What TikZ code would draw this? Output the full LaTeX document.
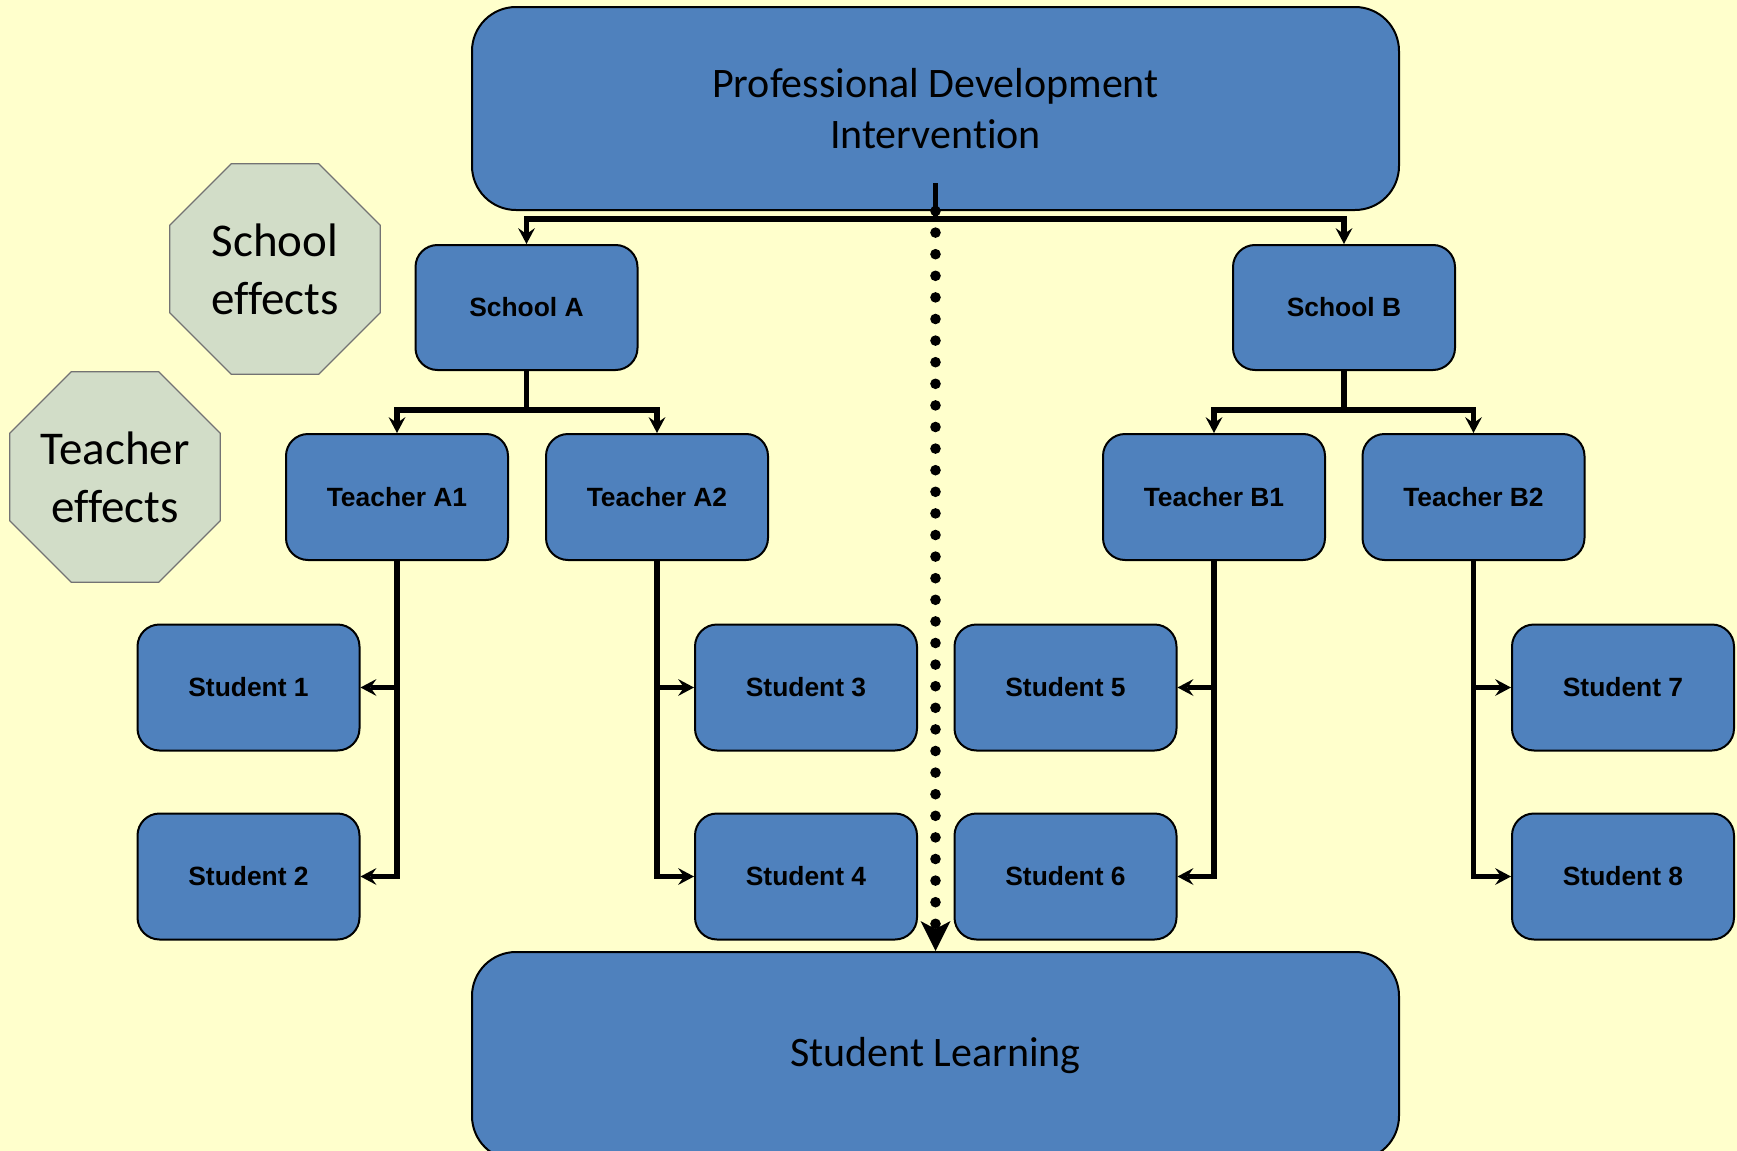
\documentclass[tikz,border=0pt]{standalone}
\usepackage{fontspec}
\setmainfont{Carlito}[RawFeature={-liga;-clig;-calt;-dlig}]
\newfontfamily\labelfont{Liberation Sans}
\usetikzlibrary{arrows.meta,shapes.geometric}
\definecolor{bgyellow}{HTML}{FFFFCC}
\definecolor{boxblue}{HTML}{4F81BD}
\definecolor{octfill}{HTML}{D2DDC8}
\begin{document}
\begin{tikzpicture}[x=0.5pt,y=-0.5pt,
  box/.style={draw=black,line width=1pt,fill=boxblue,rounded corners=11pt,
    minimum width=111pt,minimum height=63pt,inner sep=0pt,
    font=\labelfont\bfseries\fontsize{13.2}{15}\selectfont},
  bigbox/.style={draw=black,line width=1pt,fill=boxblue,rounded corners=22pt,
    minimum width=463.5pt,inner sep=0pt,align=center,
    font=\fontsize{21}{25.5}\selectfont},
  octa/.style={regular polygon,regular polygon sides=8,minimum size=114pt,
    inner sep=0pt,draw=black!55,line width=0.6pt,fill=octfill,align=center,
    font=\fontsize{23.5}{29}\selectfont},
  conn/.style={line width=2.7pt},
  tip/.style={-{Stealth[length=8pt,width=8.5pt,inset=3pt,line width=0pt]}},
  dotline/.style={line width=5.3pt,line cap=round,dash pattern=on 0pt off 10.8pt,
    -{Stealth[length=15pt,width=15pt,inset=4pt,line width=0pt]}},
]
\useasboundingbox (0,0) rectangle (1737,1151);
\fill[bgyellow] (0,0) rectangle (1737,1151);
\begin{scope}
\clip (0,0) rectangle (1737,1151);

% main boxes
\node[bigbox,minimum height=101.5pt] (top) at (935.5,108.5)
  {Professional Development\\Intervention};
\node[bigbox,minimum height=104pt] (learn) at (935.5,1056) {Student Learning};

% effect labels
\node[octa] (schfx) at (275,269) {School\\effects};
\node[octa] (teafx) at (115,477) {Teacher\\effects};

% schools
\node[box,minimum height=62.5pt] (sA) at (526.5,307.5) {School A};
\node[box,minimum height=62.5pt] (sB) at (1344,307.5) {School B};

% teachers
\node[box] (tA1) at (397,497) {Teacher A1};
\node[box] (tA2) at (657,497) {Teacher A2};
\node[box] (tB1) at (1214,497) {Teacher B1};
\node[box] (tB2) at (1473.5,497) {Teacher B2};

% students
\node[box] (s1) at (248.5,687.5) {Student 1};
\node[box] (s2) at (248.5,876.5) {Student 2};
\node[box] (s3) at (806,687.5) {Student 3};
\node[box] (s4) at (806,876.5) {Student 4};
\node[box] (s5) at (1065.5,687.5) {Student 5};
\node[box] (s6) at (1065.5,876.5) {Student 6};
\node[box] (s7) at (1623,687.5) {Student 7};
\node[box] (s8) at (1623,876.5) {Student 8};

% junction points
\coordinate (stem) at (935.5,183);
\coordinate (tj) at (935.5,219);
\coordinate (jA) at (526.5,410);
\coordinate (jB) at (1344,410);

% direct path from intervention to learning
\draw[dotline] (top.south) -- (learn.north);

% intervention to schools
\draw[conn] (stem) -- (tj);
\draw[conn,tip] (tj) -| (sA.north);
\draw[conn,tip] (tj) -| (sB.north);

% schools to teachers
\draw[conn] (sA.south) -- (jA);
\draw[conn,tip] (jA) -| (tA1.north);
\draw[conn,tip] (jA) -| (tA2.north);
\draw[conn] (sB.south) -- (jB);
\draw[conn,tip] (jB) -| (tB1.north);
\draw[conn,tip] (jB) -| (tB2.north);

% teachers to students
\draw[conn,tip] (tA1.south) |- (s1.east);
\draw[conn,tip] (tA1.south) |- (s2.east);
\draw[conn,tip] (tA2.south) |- (s3.west);
\draw[conn,tip] (tA2.south) |- (s4.west);
\draw[conn,tip] (tB1.south) |- (s5.east);
\draw[conn,tip] (tB1.south) |- (s6.east);
\draw[conn,tip] (tB2.south) |- (s7.west);
\draw[conn,tip] (tB2.south) |- (s8.west);
\end{scope}
\end{tikzpicture}
\end{document}
